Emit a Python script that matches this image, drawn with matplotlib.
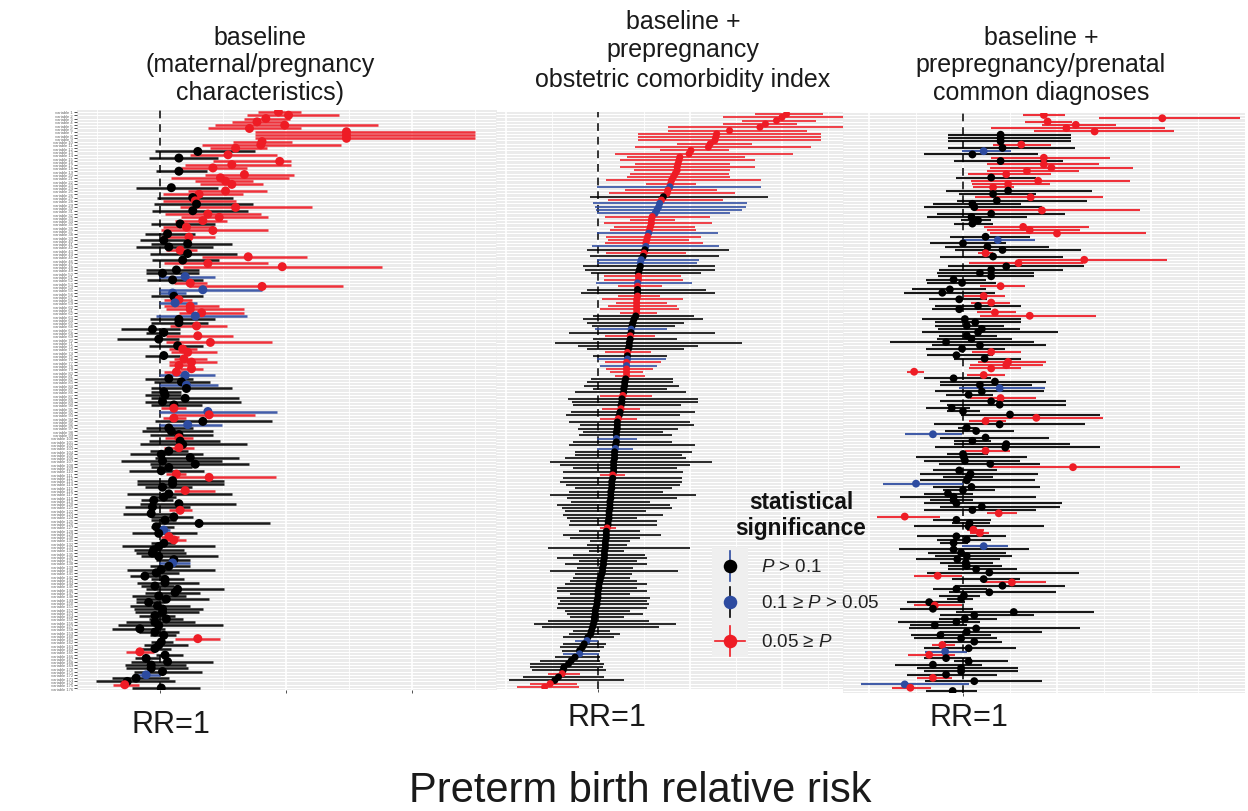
import matplotlib
matplotlib.use('Agg')
import matplotlib.pyplot as plt
from matplotlib.patches import Rectangle

plt.rcParams['font.family'] = ['Liberation Sans', 'DejaVu Sans']
plt.rcParams['mathtext.fontset'] = 'custom'
plt.rcParams['mathtext.it'] = 'Liberation Sans:italic'
plt.rcParams['mathtext.rm'] = 'Liberation Sans'

# ---------------- data: log2(relative risk) estimates and 95% CI ----------------
# Panel 1: baseline (maternal/pregnancy characteristics)
p1_est = [0.94,1.02,0.84,0.77,0.99,0.71,1.48,1.48,1.48,0.81,
          0.80,0.60,0.30,0.54,0.15,0.95,0.57,0.42,0.15,0.67,
          0.48,0.52,0.57,0.09,0.52,0.31,0.26,0.28,0.29,0.60,
          0.26,0.38,0.47,0.34,0.16,0.21,0.42,0.06,0.23,0.03,
          0.22,0.07,0.16,0.22,0.70,0.18,0.38,0.97,0.13,0.02,
          0.20,0.10,0.24,0.81,0.34,0.10,0.11,0.15,0.12,0.24,
          0.24,0.33,0.28,0.15,0.15,0.29,-0.06,0.03,0.30,-0.01,
          0.40,0.14,0.18,0.22,0.03,0.19,0.25,0.15,0.25,0.13,
          0.20,0.07,0.17,0.21,0.21,0.03,0.04,0.20,
          0.02,0.11,0.11,0.38,0.39,0.11,0.34,0.22,0.07,0.09,
          0.15,0.15,0.16,0.18,0.15,0.07,0.01,0.24,0.02,0.28,
          0.07,0.01,0.13,0.39,0.10,0.10,0.02,0.20,0.07,0.03,
          -0.05,0.15,-0.06,0.16,-0.07,0.11,0.04,0.31,-0.03,0.03,
          -0.01,0.07,0.11,0.03,-0.01,-0.05,-0.06,-0.01,0.11,0.10,
          0.07,0.01,-0.03,-0.12,0.04,0.04,-0.04,0.14,0.12,-0.01,
          0.05,-0.09,-0.02,0.02,0.02,-0.04,0.05,-0.04,-0.01,-0.16,
          -0.04,0.03,0.30,0.01,-0.01,-0.04,-0.16,0.04,-0.11,0.06,
          -0.07,-0.07,0.02,-0.11,-0.19,-0.26,-0.28,0.01]
p1_lo = [0.78,0.69,0.67,0.57,0.44,0.38,0.75,0.75,0.75,0.58,
         0.33,0.40,-0.04,0.24,-0.09,0.42,0.20,0.17,-0.03,0.36,
         0.09,0.28,0.32,-0.19,0.22,0.02,-0.02,0.02,-0.05,0.16,
         -0.06,0.04,0.17,0.12,-0.07,0.02,0.01,-0.12,0.01,-0.16,
         -0.07,-0.19,0.05,-0.08,0.33,-0.06,0.03,0.18,-0.11,-0.11,
         -0.01,-0.10,0.11,0.23,-0.01,0.00,-0.07,0.03,-0.01,0.03,
         0.05,0.15,-0.03,-0.08,-0.07,0.08,-0.31,-0.11,0.05,-0.34,
         0.05,-0.09,0.07,0.09,-0.12,0.11,0.07,0.07,0.16,0.03,
         -0.01,-0.12,-0.05,-0.01,-0.07,-0.07,-0.12,-0.07,
         -0.12,-0.07,0.01,-0.01,0.11,0.02,-0.04,-0.01,-0.11,-0.14,
         -0.08,0.04,-0.09,-0.16,0.03,-0.08,-0.24,-0.04,-0.31,-0.08,
         -0.07,-0.25,0.05,0.13,-0.18,-0.18,-0.12,0.11,-0.26,-0.07,
         -0.15,-0.16,-0.28,0.07,-0.29,-0.07,-0.07,-0.02,-0.07,-0.02,
         -0.22,0.01,0.04,-0.07,-0.30,-0.21,-0.19,-0.15,-0.03,-0.01,
         -0.08,-0.26,-0.11,-0.24,-0.07,-0.18,-0.15,-0.11,-0.12,-0.22,
         -0.19,-0.19,-0.24,-0.21,-0.20,-0.17,-0.09,-0.27,-0.33,-0.38,
         -0.17,-0.08,0.12,-0.07,-0.13,-0.15,-0.27,-0.03,-0.20,-0.23,
         -0.28,-0.27,-0.21,-0.20,-0.38,-0.51,-0.37,-0.22]
p1_hi = [1.12,1.42,1.03,0.99,1.73,1.12,2.50,2.50,2.50,1.05,
         1.44,0.85,0.75,0.93,0.46,1.04,1.04,0.69,0.37,1.06,
         1.02,0.74,0.82,0.46,0.85,0.66,0.58,0.60,0.74,1.21,
         0.70,0.80,0.86,0.53,0.44,0.42,0.86,0.28,0.44,0.22,
         0.57,0.42,0.29,0.61,1.17,0.47,0.86,1.76,0.31,0.31,
         0.44,0.34,0.37,1.45,0.81,0.21,0.34,0.25,0.29,0.47,
         0.67,0.67,0.69,0.44,0.38,0.53,0.16,0.16,0.58,0.15,
         0.89,0.34,0.29,0.45,0.16,0.37,0.45,0.24,0.34,0.21,
         0.44,0.26,0.40,0.46,0.57,0.17,0.17,0.63,
         0.64,0.33,0.21,0.93,0.75,0.21,0.89,0.49,0.26,0.42,
         0.42,0.26,0.48,0.69,0.27,0.22,0.34,0.63,0.49,0.71,
         0.25,0.35,0.21,0.92,0.51,0.51,0.25,0.44,0.57,0.13,
         0.10,0.60,0.24,0.25,0.11,0.26,0.13,0.87,0.11,0.08,
         0.29,0.15,0.21,0.12,0.44,0.19,0.21,0.46,0.24,0.24,
         0.24,0.44,0.15,0.05,0.19,0.31,0.11,0.51,0.32,0.21,
         0.39,0.04,0.24,0.34,0.31,0.12,0.18,0.28,0.50,0.04,
         0.15,0.13,0.48,0.10,0.22,0.09,-0.05,0.18,0.00,0.42,
         0.21,0.22,0.33,0.00,0.07,0.12,-0.17,0.32]
# significance class: k = P > 0.1, b = 0.1 >= P > 0.05, r = 0.05 >= P
p1_sig = ("rrrrrrrrrr" "rrkrkrrrkr" "rrrkrrkrkr" "krrrkrrkrk" "kkrkrkrrkk"
          "bkrrbbkrbr" "rrbkkrkkrk" "rkrrkrrrrr" "bkkbkkkk"
          "kkrbrrkbkk" "krkkrkkkkk" "kkrrkkkrkk" "kkkrkkkkkb" "krrkkkkkkb"
          "kkkkkkkkkk" "kkkkkkkkkk" "kkrkkkrkkk" "kkkbkkrk")

# Panel 2: baseline + prepregnancy obstetric comorbidity index (sorted)
p2_est = [2.05,2.00,1.94,1.82,1.76,1.43,1.29,1.28,1.27,1.22,
          1.20,1.01,0.99,0.89,0.88,0.87,0.86,0.86,0.84,0.82,
          0.80,0.79,0.78,0.76,0.75,0.71,0.69,0.67,0.66,0.64,
          0.62,0.59,0.58,0.58,0.57,0.56,0.55,0.54,0.53,0.52,
          0.52,0.51,0.50,0.49,0.47,0.46,0.46,0.45,0.44,0.44,
          0.44,0.43,0.43,0.43,0.43,0.43,0.42,0.42,0.42,0.42,
          0.42,0.41,0.39,0.38,0.37,0.36,0.36,0.35,0.35,0.34,
          0.34,0.33,0.32,0.32,0.32,0.31,0.31,0.31,0.31,0.31,
          0.30,0.29,0.29,0.28,0.28,0.27,0.26,
          0.26,0.25,0.25,0.24,0.23,0.22,0.21,0.21,0.21,0.20,
          0.20,0.20,0.20,0.19,0.19,0.18,0.18,0.18,0.17,0.17,
          0.17,0.17,0.16,0.16,0.15,0.15,0.15,0.14,0.14,0.14,
          0.13,0.13,0.13,0.12,0.12,0.12,0.11,0.11,0.10,0.09,
          0.09,0.09,0.08,0.08,0.08,0.07,0.07,0.07,0.06,0.06,
          0.05,0.05,0.04,0.03,0.02,0.01,0.01,0.00,0.00,0.00,
          -0.01,-0.01,-0.02,-0.03,-0.03,-0.04,-0.04,-0.05,-0.06,-0.07,
          -0.08,-0.11,-0.12,-0.15,-0.17,-0.20,-0.20,-0.25,-0.29,-0.32,
          -0.37,-0.38,-0.39,-0.43,-0.47,-0.52,-0.58]
p2_lo = [1.71,1.36,1.57,1.36,0.76,0.76,0.44,0.44,0.44,0.86,
         0.40,0.67,0.19,0.32,0.24,0.40,0.24,0.39,0.35,0.31,
         0.09,0.52,-0.01,0.29,0.12,-0.09,0.11,-0.05,-0.03,-0.02,
         -0.01,0.08,0.35,0.06,0.17,0.13,-0.01,0.09,0.11,0.08,
         -0.06,-0.12,0.09,-0.09,-0.01,-0.01,-0.16,-0.14,-0.08,0.06,
         0.07,-0.02,0.22,-0.12,-0.18,0.22,0.04,0.20,0.11,0.02,
         0.24,-0.05,-0.16,-0.12,-0.06,-0.03,-0.31,0.08,-0.05,-0.47,
         -0.22,-0.12,0.08,-0.05,-0.01,0.08,0.02,0.09,0.13,0.18,
         -0.08,-0.12,-0.15,-0.05,-0.25,0.02,-0.33,
         -0.28,-0.27,0.04,-0.29,-0.35,0.02,-0.32,-0.20,-0.22,-0.16,
         -0.21,-0.01,-0.27,-0.31,-0.01,-0.25,-0.25,-0.36,-0.52,-0.41,
         -0.27,-0.38,0.02,-0.38,-0.41,-0.35,-0.25,-0.32,-0.52,-0.34,
         -0.29,-0.45,-0.39,-0.36,-0.38,-0.34,-0.30,-0.32,0.02,-0.21,
         -0.38,-0.30,-0.09,-0.12,-0.54,-0.10,-0.27,-0.45,-0.21,-0.36,
         -0.23,-0.52,-0.25,-0.27,-0.30,-0.36,-0.45,-0.45,-0.30,-0.45,
         -0.41,-0.43,-0.45,-0.36,-0.34,-0.30,-0.54,-0.70,-0.61,-0.27,
         -0.32,-0.38,-0.25,-0.38,-0.41,-0.39,-0.38,-0.47,-0.63,-0.74,
         -0.74,-0.72,-0.54,-0.81,-0.97,-0.74,-0.88]
p2_hi = [2.45,2.66,2.37,2.16,2.66,2.27,2.42,2.42,2.42,1.67,
         2.32,1.42,2.12,1.60,1.71,1.44,1.71,1.43,1.42,1.43,
         1.77,1.07,1.77,1.29,1.49,1.85,1.36,1.62,1.61,1.57,
         1.43,1.22,0.84,1.24,1.05,1.07,1.30,1.12,0.99,1.14,
         1.32,1.42,0.96,1.32,1.10,1.08,1.27,1.27,1.12,0.90,
         0.92,1.02,0.70,1.17,1.27,0.67,0.92,0.75,0.86,0.88,
         0.64,1.04,1.14,0.93,0.84,0.75,1.27,0.62,0.86,1.57,
         1.09,0.93,0.58,0.75,0.74,0.69,0.64,0.60,0.49,0.51,
         0.82,0.82,0.88,0.75,0.96,0.59,1.09,
         1.09,0.90,0.46,1.05,0.89,0.42,1.00,1.04,0.87,0.71,
         0.80,0.42,0.80,1.05,0.38,1.02,0.91,0.96,1.24,1.00,
         0.86,0.92,0.29,0.91,0.91,0.89,0.80,0.71,1.07,0.86,
         0.57,0.78,0.80,0.52,0.71,0.42,0.64,0.64,0.20,0.46,
         0.69,0.46,0.35,0.31,1.00,0.28,0.51,0.53,0.42,0.53,
         0.38,0.87,0.37,0.35,0.42,0.53,0.42,0.53,0.35,0.57,
         0.53,0.55,0.53,0.35,0.49,0.28,0.55,0.85,0.66,0.13,
         0.24,0.17,0.00,0.09,0.06,0.02,0.01,0.02,0.02,0.06,
         0.05,0.09,-0.20,0.06,0.28,-0.23,-0.21]
p2_sig = ("rrrrrrrrrr" "rrrrrrrrrr" "rrbrrkrbbb" "brrrrrbrrr" "bkrkbbkkkr"
          "rbrkkrrrrr" "rkkkkbkrkk" "kkrkbrbrrr" "kkkkkrk"
          "kkrkkrkkkk" "kbkkbkkkkk" "kkrkkkkkkk" "kkkkkkkkrk" "kkkkkkkkkk"
          "kkkkkkkkkk" "kkkkkkkkkk" "kkbkkkbkkk" "kkrkkrr")

# Panel 3: baseline + prepregnancy/prenatal common diagnoses
p3_est = [0.86,2.12,0.90,1.20,1.10,1.40,0.40,0.40,0.40,0.62,
          0.42,0.22,0.10,0.86,0.40,0.86,0.94,0.68,0.46,0.30,
          0.80,0.48,0.32,0.48,0.32,0.72,0.36,0.10,0.12,0.84,
          0.30,0.09,0.16,0.10,0.64,0.71,1.00,0.24,0.37,0.00,
          0.26,0.42,0.24,0.32,1.29,0.59,0.46,0.30,0.18,0.30,
          -0.10,-0.01,0.40,-0.14,-0.22,0.22,-0.04,0.30,0.16,-0.04,
          0.34,0.71,0.02,0.13,0.04,0.20,0.16,0.04,0.09,-0.18,
          0.18,-0.01,0.30,-0.07,0.23,0.48,0.46,0.30,-0.52,0.22,
          -0.10,0.34,0.18,0.39,0.20,0.06,0.40,
          0.30,0.39,-0.12,0.00,0.50,0.78,0.24,0.39,0.04,0.14,
          -0.32,0.24,0.10,0.46,0.45,0.24,0.00,0.01,0.02,0.29,
          1.17,-0.04,0.08,0.06,0.04,-0.50,0.09,0.00,-0.16,-0.10,
          -0.10,-0.07,0.20,0.10,0.38,-0.62,-0.07,0.07,0.06,0.11,
          0.18,-0.07,0.04,-0.10,0.22,-0.10,-0.02,0.04,-0.06,0.03,
          0.04,0.14,0.28,-0.27,0.22,0.52,0.42,-0.07,0.28,0.01,
          -0.02,-0.36,-0.30,-0.32,0.54,0.12,0.02,-0.07,-0.30,0.14,
          0.04,-0.24,-0.02,0.12,-0.22,0.06,-0.19,-0.36,-0.18,0.06,
          -0.32,-0.02,-0.02,-0.18,-0.32,0.12,-0.62,-0.56,-0.11]
p3_lo = [0.64,1.45,0.66,0.84,0.30,0.75,-0.16,-0.16,-0.16,0.32,
         -0.16,-0.01,-0.42,0.30,-0.10,0.25,0.29,0.25,0.05,-0.07,
         0.08,0.10,0.11,-0.18,-0.04,0.13,-0.06,-0.32,-0.42,0.13,
         -0.28,-0.38,-0.02,-0.10,0.22,0.25,0.29,-0.14,-0.01,-0.35,
         -0.19,-0.09,0.16,-0.24,0.59,0.06,-0.16,-0.26,-0.28,-0.27,
         -0.39,-0.38,0.18,-0.54,-0.63,0.01,-0.36,0.09,-0.30,-0.33,
         0.15,0.18,-0.44,-0.30,-0.30,-0.27,-0.44,-0.26,-0.28,-0.78,
         -0.33,-0.39,0.10,-0.38,-0.10,0.16,0.07,0.06,-0.60,0.04,
         -0.42,-0.25,-0.24,-0.04,-0.30,-0.18,0.07,
         -0.24,-0.17,-0.39,-0.17,-0.02,0.22,0.06,-0.31,-0.05,-0.19,
         -0.62,-0.25,-0.10,-0.10,-0.30,0.02,-0.17,-0.50,-0.42,-0.26,
         0.30,-0.32,-0.46,-0.21,-0.46,-0.85,-0.32,-0.21,-0.42,-0.67,
         -0.35,-0.42,-0.24,-0.42,0.25,-0.92,-0.32,-0.12,-0.52,0.04,
         0.07,-0.49,-0.28,-0.25,-0.01,-0.68,-0.37,-0.30,-0.50,-0.25,
         -0.16,-0.16,-0.38,-0.52,-0.12,0.22,-0.09,-0.32,-0.15,-0.26,
         -0.17,-0.60,-0.52,-0.67,-0.07,-0.24,-0.26,-0.69,-0.56,-0.57,
         -0.24,-0.55,-0.52,-0.20,-0.33,-0.42,-0.40,-0.58,-0.42,-0.10,
         -0.72,-0.49,-0.42,-0.60,-0.49,-0.40,-1.08,-0.76,-0.39]
p3_hi = [1.09,2.95,1.16,1.63,2.15,2.24,1.15,1.15,1.15,0.94,
         1.19,0.51,0.80,1.56,1.06,1.45,1.81,1.23,0.94,0.78,
         1.78,0.93,0.54,1.37,0.78,1.49,1.32,0.62,0.84,1.88,
         1.09,0.68,0.30,0.32,1.34,1.24,1.95,0.71,0.77,0.46,
         0.92,1.26,0.32,1.06,2.17,1.28,1.29,1.06,0.75,0.75,
         0.24,0.35,0.66,0.24,0.34,0.45,0.25,0.50,0.62,0.30,
         0.56,1.42,0.62,0.62,0.44,0.61,1.01,0.36,0.52,0.75,
         0.88,0.45,0.62,0.32,0.62,0.88,0.85,0.62,-0.42,0.45,
         0.30,0.88,0.73,0.87,0.86,0.32,0.78,
         1.10,1.10,0.07,0.18,1.46,1.49,0.46,1.30,0.14,0.54,
         -0.01,0.91,0.30,1.14,1.46,0.50,0.27,0.68,0.61,0.82,
         2.31,0.36,0.80,0.32,0.77,0.00,0.82,0.34,0.11,0.78,
         0.11,1.05,1.03,0.78,0.57,-0.24,0.30,0.29,0.86,0.22,
         0.28,0.46,0.30,0.05,0.48,0.70,0.46,0.52,0.39,0.32,
         0.41,0.57,1.23,-0.01,0.61,0.88,1.09,0.25,0.99,0.18,
         0.11,0.02,-0.01,0.11,1.39,0.75,0.36,0.18,0.04,1.24,
         0.84,0.30,0.36,0.42,-0.09,0.56,0.04,-0.09,0.09,0.48,
         0.20,0.58,0.58,0.36,-0.12,0.84,0.06,-0.34,0.15]
p3_sig = ("rrrrrrkkkr" "kbkrkrrrrk" "rrrkkrkkkr" "kkkkrrrkbk" "kkrkrrkkkk"
          "kkrkkrkrkk" "rrkkkkkkkk" "kkrkkrrrrr" "kkkbkkr"
          "kkkkkrrkkk" "bkkkkrkkkk" "rkkkkbkkkk" "kkkkrrkkkr" "rkkkbkkkkk"
          "kkkrkrkkkk" "kkrkkkkkkk" "kkkkrkbrkk" "kkkkrkbrk")

panel_titles = [["baseline", "(maternal/pregnancy", "characteristics)"],
                ["baseline +", "prepregnancy", "obstetric comorbidity index"],
                ["baseline +", "prepregnancy/prenatal", "common diagnoses"]]
legend_title = ["statistical", "significance"]
legend_labels = [r"$\mathit{P}$ > 0.1", r"0.1 ≥ $\mathit{P}$ > 0.05", r"0.05 ≥ $\mathit{P}$"]
ref_label = "RR=1"
x_title = "Preterm birth relative risk"

# ---------------- drawing ----------------
W, H = 1248, 812
fig = plt.figure(figsize=(W / 100, H / 100), dpi=100)
COL = {'k': '#000000', 'b': '#2D4BA0', 'r': '#EE1C25'}


def px_axes(l, t, r, b, z=1):
    return fig.add_axes([l / W, 1 - b / H, (r - l) / W, (b - t) / H], zorder=z)


def panel(ax, est, lo, hi, sig, xlim, majors, minors, ticks, lw, ms, ylabels=False):
    n = min(len(est), len(lo), len(hi), len(sig))
    y = list(range(n))
    ax.set_facecolor('#EBEBEB')
    ax.set_xlim(*xlim)
    ax.set_ylim(n - 1 + 0.6, -0.6)
    ax.hlines(y, xlim[0], xlim[1], colors='white', lw=0.75, zorder=0.5)
    for m in minors:
        ax.axvline(m, color='white', lw=0.6, zorder=0.6)
    for m in majors:
        ax.axvline(m, color='white', lw=1.2, zorder=0.6)
    ax.axvline(0, color='#333333', lw=1.4, ls=(0, (4, 3)), zorder=1)
    cols = [COL[s] for s in sig[:n]]
    ax.hlines(y, lo[:n], hi[:n], colors=cols, lw=lw, alpha=0.9, zorder=2)
    ax.scatter(est[:n], y, s=ms, c=cols, zorder=3, linewidths=0)
    for s in ax.spines.values():
        s.set_visible(False)
    ax.set_xticks(ticks)
    ax.set_xticklabels([])
    ax.tick_params(axis='x', length=2.5, width=0.6, color='#333333')
    if ylabels:
        ax.set_yticks(y)
        ax.set_yticklabels([f"variable {i + 1}" for i in y], fontsize=3, color='#666666')
        ax.tick_params(axis='y', length=2, width=0.6, color='#333333', pad=1)
    else:
        ax.set_yticks([])


ax1 = px_axes(77, 111, 497, 691)
panel(ax1, p1_est, p1_lo, p1_hi, p1_sig, ((77 - 160) / 126, (497 - 160) / 126),
      [0, 1, 2], [-0.5, 0.5, 1.5, 2.5], [0, 1, 2], 1.8, 42, ylabels=True)

ax2 = px_axes(496, 113, 843, 690)
panel(ax2, p2_est, p2_lo, p2_hi, p2_sig, ((496 - 598) / 92, (843 - 598) / 92),
      [-1, 0, 1, 2], [-0.5, 0.5, 1.5, 2.5], [0], 1.3, 26)

ax3 = px_axes(843, 114, 1245, 694)
panel(ax3, p3_est, p3_lo, p3_hi, p3_sig, ((843 - 963) / 94, (1245 - 963) / 94),
      [-1, 0, 1, 2], [-0.5, 0.5, 1.5, 2.5], [0], 1.5, 32)

# overlay in pixel coordinates for titles / legend
ov = fig.add_axes([0, 0, 1, 1], zorder=10)
ov.set_xlim(0, W)
ov.set_ylim(H, 0)
ov.axis('off')
ov.patch.set_alpha(0)

tcol = '#1A1A1A'
title_pos = [(260, [38, 65, 93]), (683, [22, 50, 80]), (1041, [38, 65, 93])]
for (cx, ys), lines in zip(title_pos, panel_titles):
    for yy, line in zip(ys, lines):
        ov.text(cx, yy, line, ha='center', va='center', fontsize=18, color=tcol)

for cx, cy in [(171, 725), (607, 718), (969, 718)]:
    ov.text(cx, cy, ref_label, ha='center', va='center', fontsize=22, color=tcol)

ov.text(640, 791, x_title, ha='center', va='center', fontsize=30, color=tcol)

# legend
ov.text(801, 503, legend_title[0], ha='center', va='center', fontsize=16.3,
        fontweight='bold', color='#111111')
ov.text(801, 529, legend_title[1], ha='center', va='center', fontsize=16.3,
        fontweight='bold', color='#111111')
ov.add_patch(Rectangle((712, 548), 36, 110, facecolor='#EFEFEF', edgecolor='none'))
key_y = [567, 603, 642]
key_dot = [COL['k'], COL['b'], COL['r']]
key_bar = [COL['b'], COL['k'], COL['r']]
for yy, dc, bc, lab in zip(key_y, key_dot, key_bar, legend_labels):
    ov.plot([730, 730], [yy - 15, yy + 15], color=bc, lw=1.2, zorder=11)
    if dc == COL['r']:
        ov.plot([715, 745], [yy, yy], color=bc, lw=1.2, zorder=11)
    ov.scatter([730], [yy], s=95, c=dc, zorder=12, linewidths=0)
    ov.text(761, yy + 1, lab, ha='left', va='center', fontsize=13.5, color='#222222')

fig.savefig('out.png', dpi=100)
